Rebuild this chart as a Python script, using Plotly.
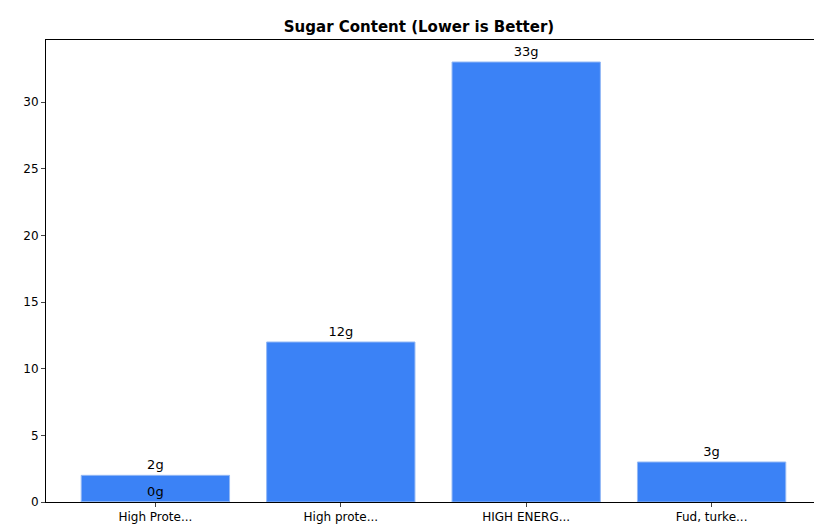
import plotly.graph_objects as go

labels = ['High Prote...', 'High Prote...', 'High prote...', 'HIGH ENERG...', 'Fud, turke...']
sugar = [2, 0, 12, 33, 3]
text = [f"{v}g" for v in sugar]

fig = go.Figure()

fig.add_trace(go.Bar(
    x=labels,
    y=sugar,
    width=0.8,
    marker=dict(color='#3b82f6', line=dict(color='#93b8f5', width=1)),
    text=text,
    textposition='outside',
    cliponaxis=False,
    textfont=dict(color='black', size=13),
))

fig.update_layout(
    title=dict(text="<b>Sugar Content (Lower is Better)</b>", x=0.5, xanchor='center',
               y=0.965, yanchor='middle', font=dict(size=15, color='black')),
    barmode='overlay',
    width=822, height=528,
    margin=dict(l=38, r=9, t=32, b=34),
    plot_bgcolor='white', paper_bgcolor='white',
    font=dict(family='DejaVu Sans', size=12, color='black'),
    showlegend=False,
)
fig.update_xaxes(range=[-0.59, 3.59], showline=True, linecolor='black', mirror=True,
                 ticks='outside', ticklen=4, showgrid=False)
fig.update_yaxes(range=[0, 34.65], dtick=5, showline=True, linecolor='black', mirror=True,
                 ticks='outside', ticklen=4, showgrid=False, zeroline=False)

fig.write_html("out.html")
